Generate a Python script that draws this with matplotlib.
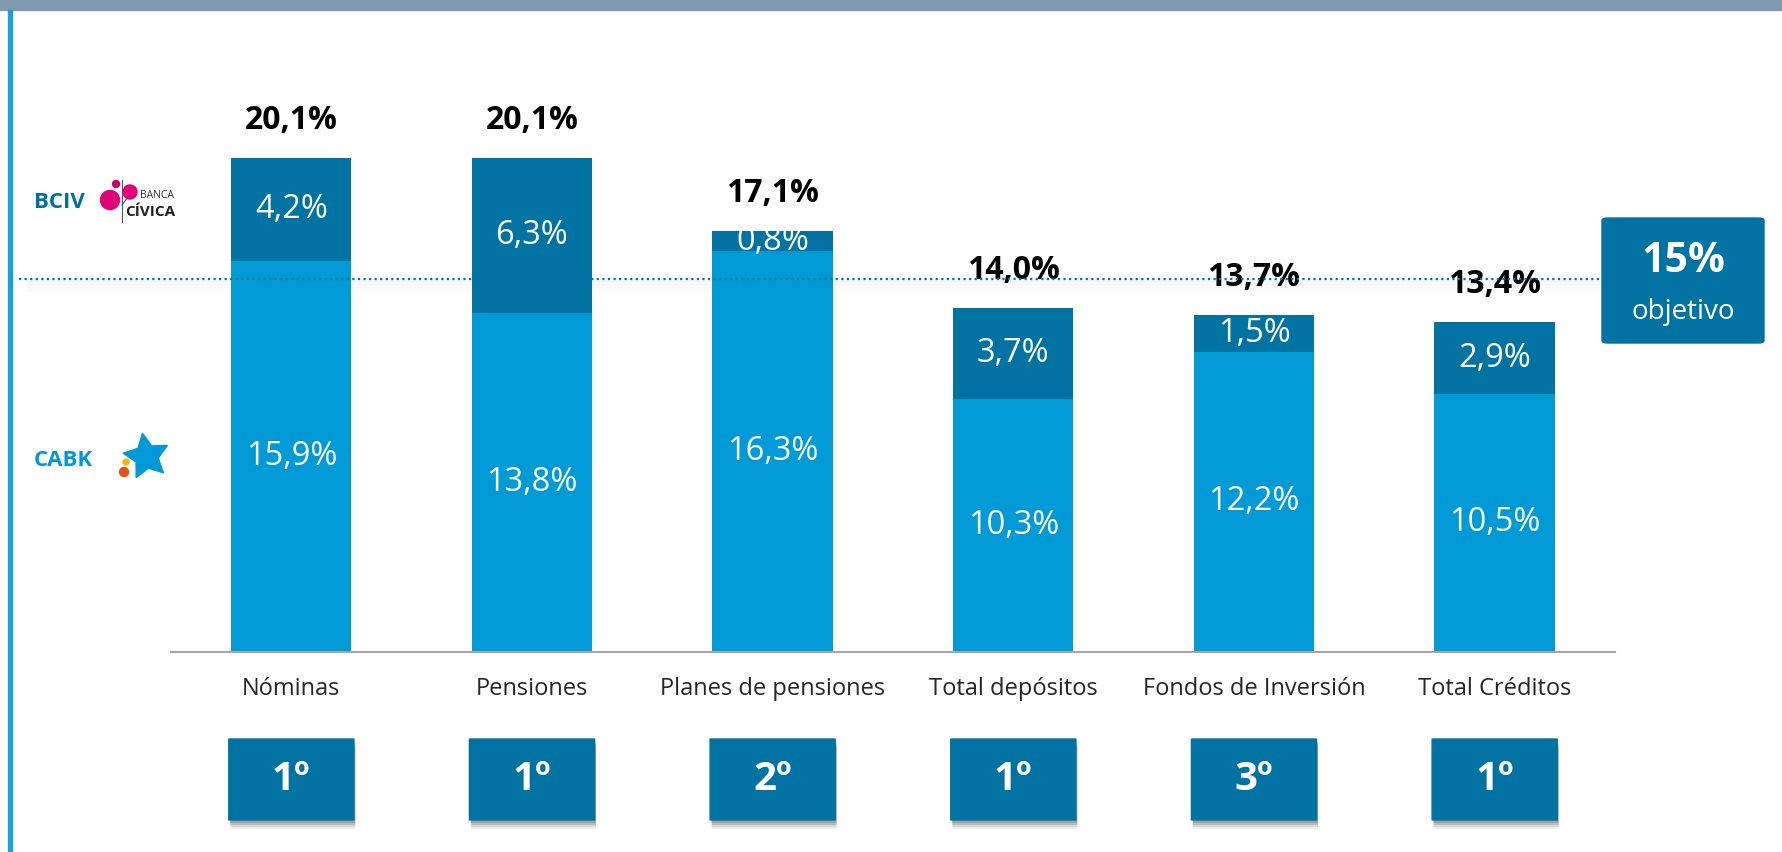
import matplotlib.pyplot as plt
from matplotlib.patches import Rectangle, FancyBboxPatch, Ellipse
from matplotlib.transforms import blended_transform_factory
from matplotlib.lines import Line2D

categories = ["Nóminas", "Pensiones", "Planes de pensiones", "Total depósitos",
              "Fondos de Inversión", "Total Créditos"]
cabk = [15.9, 13.8, 16.3, 10.3, 12.2, 10.5]
bciv = [4.2, 6.3, 0.8, 3.7, 1.5, 2.9]
totals = [20.1, 20.1, 17.1, 14.0, 13.7, 13.4]
ranks = ["1º", "1º", "2º", "1º", "3º", "1º"]
target = 15

light_blue = "#009AD7"
dark_blue = "#0073A2"

plt.rcParams["font.family"] = ["Open Sans", "DejaVu Sans"]

W, H = 1783, 852
fig = plt.figure(figsize=(W / 100, H / 100), dpi=100)

# axes placed in pixel terms: baseline at y=652, x from 171 to 1615
ax = fig.add_axes([171 / W, (H - 652) / H, (1615 - 171) / W, 541 / H])
ax.set_xlim(-0.5, 5.5)
ax.set_ylim(0, 22)

x = range(len(categories))
ax.bar(x, cabk, width=0.5, color=light_blue, zorder=2)
ax.bar(x, bciv, width=0.5, bottom=cabk, color=dark_blue, zorder=2)

def fmt(v):
    return f"{v:.1f}".replace(".", ",") + "%"

for i in x:
    ax.text(i, cabk[i] / 2, fmt(cabk[i]), ha="center", va="center",
            color="white", fontsize=23.5, zorder=3)
    ax.text(i, cabk[i] + bciv[i] / 2, fmt(bciv[i]), ha="center", va="center",
            color="white", fontsize=23.5, zorder=3)
    ax.annotate(fmt(totals[i]), (i, totals[i]), xytext=(0, 27),
                textcoords="offset points", ha="center", va="center",
                fontsize=23, fontweight="bold", color="black")

# target line with a faint shadow
ax.axhline(target + 0.15, xmin=-0.105, xmax=1.0, color=dark_blue, lw=1.6,
           ls=(0, (1, 1.5)), clip_on=False, zorder=4)
for k in range(1, 9):
    ax.axhline(target + 0.15 - k * 0.06, xmin=-0.1, xmax=1.0, color="black",
               alpha=0.03 * (1 - k / 10), lw=1.5, clip_on=False, zorder=1)

for s in ["top", "right", "left"]:
    ax.spines[s].set_visible(False)
ax.spines["bottom"].set_color("#A6A6A6")
ax.spines["bottom"].set_linewidth(1.5)
ax.set_yticks([])
ax.set_xticks(list(x))
ax.set_xticklabels(categories, fontsize=17, color="#262626")
ax.tick_params(axis="x", length=0, pad=18)

# rank boxes under each category
tr = blended_transform_factory(ax.transData, fig.transFigure)
bw, bh = 0.52, 81 / H
by = (H - 820) / H
for i in x:
    for k, a in [(9, 0.08), (7, 0.12), (5, 0.16), (3, 0.2)]:
        sh = FancyBboxPatch((i - bw / 2 + 0.006, by - k / H), bw, bh,
                            boxstyle="round,pad=0,rounding_size=0.01",
                            transform=tr, color="#303030", alpha=a, lw=0,
                            clip_on=False, zorder=1, mutation_aspect=0.02)
        ax.add_patch(sh)
    box = FancyBboxPatch((i - bw / 2, by), bw, bh,
                         boxstyle="round,pad=0,rounding_size=0.01",
                         transform=tr, color=dark_blue, clip_on=False,
                         zorder=2, mutation_aspect=0.02)
    ax.add_patch(box)
    ax.text(i, by + bh / 2, ranks[i], transform=tr, ha="center", va="center",
            color="white", fontsize=29, fontweight="bold", zorder=3)

# target box on the right
fig.patches.append(FancyBboxPatch((1602 / W, (H - 343) / H), 162 / W, 125 / H,
                                  boxstyle="round,pad=0,rounding_size=0.003",
                                  transform=fig.transFigure, color=dark_blue))
fig.text(1683 / W, (H - 262) / H, "15%", ha="center", va="center",
         color="white", fontsize=29.5, fontweight="bold")
fig.text(1683 / W, (H - 312) / H, "objetivo", ha="center", va="center",
         color="white", fontsize=20)

# frame: grey band on top, blue rule on the left
fig.patches.append(Rectangle((0, (H - 10) / H), 1, 10 / H,
                             transform=fig.transFigure, color="#8299AE"))
fig.patches.append(Rectangle((8 / W, 0), 4 / W, (H - 10) / H,
                             transform=fig.transFigure, color="#1BA0DC"))

# left legend labels with small logos
fig.text(34 / W, (H - 203) / H, "BCIV", ha="left", va="center",
         color="#0070A0", fontsize=16, fontweight="bold")
fig.text(34 / W, (H - 461) / H, "CABK", ha="left", va="center",
         color="#0099D8", fontsize=16, fontweight="bold")

def dot(cx, cy, r, color):
    fig.patches.append(Ellipse((cx / W, (H - cy) / H), 2 * r / W, 2 * r / H,
                               transform=fig.transFigure, color=color,
                               zorder=5))

pink = "#E2007A"
dot(110, 200, 9.5, pink)
dot(130, 192, 7, pink)
dot(116, 184, 3.5, "#C8006E")
fig.lines.append(Line2D([122 / W, 122 / W], [(H - 180) / H, (H - 222) / H],
                        transform=fig.transFigure, color="#555555", lw=0.8))
fig.lines.append(Line2D([122 / W, 128 / W], [(H - 205) / H, (H - 197) / H],
                        transform=fig.transFigure, color="#555555", lw=0.8))
fig.text(140 / W, (H - 196) / H, "BANCA", ha="left", va="center",
         color="#333333", fontsize=7.5)
fig.text(125 / W, (H - 212) / H, "CÍVICA", ha="left", va="center",
         color="#222222", fontsize=11, fontweight="bold")

fig.lines.append(Line2D([146 / W], [(H - 456) / H], marker=(5, 1, 10),
                        markersize=34, color="#0099D8",
                        transform=fig.transFigure, zorder=4))
dot(126, 462, 3, "#F5B800")
dot(124, 472, 4.5, "#E8501E")

fig.savefig("out.png", dpi=100, facecolor="white")
